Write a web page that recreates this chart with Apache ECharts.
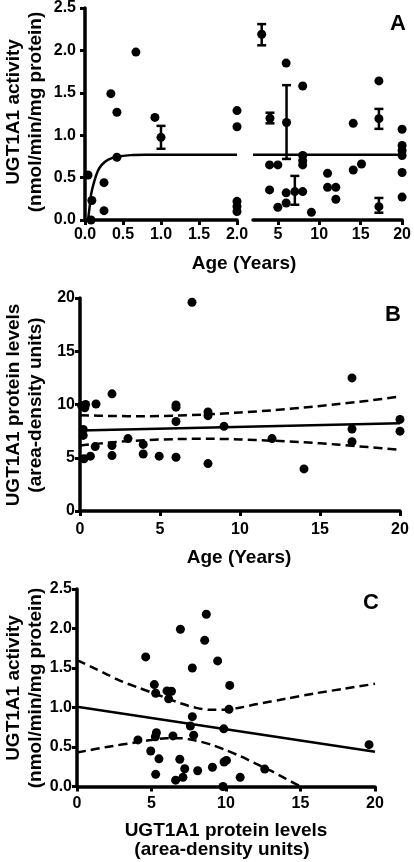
<!DOCTYPE html>
<html><head><meta charset="utf-8">
<script src="https://cdn.jsdelivr.net/npm/echarts@6/dist/echarts.min.js"></script>
<style>html,body{margin:0;padding:0;background:#fff}#c{width:414px;height:862px}</style>
</head><body><div id="c"></div>
<script>
// ---------- Panel A: activity vs age ----------
// left segment (0-2 years)
const ageA1 = [0.04, 0.09, 0.08, 0.25, 0.25, 0.34, 0.42, 0.42, 0.67, 0.92, 2.0, 2.0, 2.0, 2.0, 2.0];
const actA1 = [0.53, 0.23, 0.0, 0.44, 0.11, 1.49, 1.27, 0.74, 1.98, 1.21, 1.29, 1.10, 0.22, 0.16, 0.10];
const errAgeA1 = [1.0];
const errMeanA1 = [0.975];
const errLowA1 = [0.84];
const errHighA1 = [1.11];
const curveAgeA1 = [0.04, 0.06, 0.08, 0.12, 0.17, 0.22, 0.30, 0.42, 0.60, 0.80, 1.2, 2.0];
const curveActA1 = [0.0, 0.15, 0.30, 0.45, 0.58, 0.65, 0.71, 0.745, 0.765, 0.77, 0.77, 0.77];
// right segment (2-20 years)
const ageA2 = [6.0, 8.0, 14.1, 17.2, 20, 20, 20, 20, 20, 20, 4.0, 5.0, 8.0, 8.0, 8.0, 11.0, 11.0, 12.0, 12.0, 14.1, 15.1, 4.0, 6.0, 6.0, 5.0, 8.0, 9.05];
const actA2 = [1.85, 1.58, 1.14, 1.64, 1.07, 0.88, 0.82, 0.76, 0.56, 0.27, 0.65, 0.65, 0.76, 0.70, 0.65, 0.55, 0.385, 0.385, 0.245, 0.59, 0.66, 0.355, 0.32, 0.20, 0.15, 0.335, 0.09];
const errAgeA2 = [3.05, 4.05, 6.05, 7.05, 17.2, 17.2];
const errMeanA2 = [2.19, 1.20, 1.15, 0.335, 1.195, 0.157];
const errLowA2 = [2.06, 1.14, 0.72, 0.18, 1.075, 0.086];
const errHighA2 = [2.31, 1.265, 1.59, 0.52, 1.31, 0.26];
const curveAgeA2 = [2, 20];
const curveActA2 = [0.77, 0.77];
const ticksA1 = [0, 0.5, 1.0, 1.5, 2.0];
const ticksA2 = [5, 10, 15, 20];

// ---------- Panel B: protein vs age ----------
const ageB = [0.1, 0.35, 0.3, 1.0, 0.2, 0.2, 0.25, 0.65, 0.95, 2.0, 2.0, 2.0, 3.0, 3.95, 3.95, 4.95, 6.0, 6.0, 6.0, 6.0, 7.0, 8.0, 8.0, 8.0, 9.0, 12.0, 14.0, 17.0, 17.0, 17.0, 20.0, 20.0];
const protB = [9.9, 10.0, 9.7, 10.05, 7.65, 7.1, 4.9, 5.15, 6.05, 11.0, 6.15, 5.2, 6.8, 6.25, 5.35, 5.15, 9.95, 9.75, 8.4, 5.05, 19.6, 9.3, 8.95, 4.45, 7.95, 6.8, 3.95, 12.5, 7.7, 6.5, 8.6, 7.5];
const fitAgeB = [0, 20];
const fitProtB = [7.55, 8.25];
const bandAgeB = [0, 2, 4, 6, 8, 10, 12, 14, 16, 18, 20];
const bandUpB = [9.0, 8.92, 8.9, 8.95, 9.08, 9.25, 9.45, 9.72, 10.02, 10.35, 10.75];
const bandLoB = [6.15, 6.45, 6.65, 6.75, 6.78, 6.72, 6.6, 6.45, 6.25, 6.0, 5.75];

// ---------- Panel C: activity vs protein ----------
const protC = [4.61, 8.68, 6.94, 8.57, 9.44, 7.74, 5.19, 10.25, 5.28, 6.04, 6.34, 6.15, 10.2, 7.74, 7.61, 9.85, 7.83, 5.33, 5.26, 6.44, 4.09, 4.95, 5.5, 6.9, 7.23, 8.1, 9.09, 9.87, 10.03, 5.28, 7.11, 6.62, 9.8, 10.95, 12.6, 19.6];
const actC = [1.64, 2.18, 1.99, 1.85, 1.59, 1.50, 1.29, 1.28, 1.18, 1.21, 1.205, 1.11, 0.977, 0.884, 0.766, 0.73, 0.65, 0.68, 0.63, 0.64, 0.59, 0.45, 0.35, 0.345, 0.225, 0.20, 0.243, 0.31, 0.33, 0.154, 0.116, 0.08, 0.0, 0.116, 0.22, 0.53];
const fitProtC = [0, 20];
const fitActC = [1.01, 0.44];
const upProtC = [0, 1, 2, 3, 4, 5, 6, 7, 8, 9, 10, 11, 12, 14, 16, 18, 20];
const upActC = [1.60, 1.51, 1.42, 1.33, 1.26, 1.19, 1.12, 1.05, 0.995, 0.97, 0.975, 1.0, 1.04, 1.11, 1.18, 1.24, 1.30];
const loProtC = [0, 2, 4, 5, 6, 7, 8, 9, 10, 11, 12, 13, 14, 15];
const loActC = [0.43, 0.50, 0.56, 0.59, 0.61, 0.61, 0.58, 0.53, 0.46, 0.38, 0.29, 0.20, 0.10, 0.0];

const FONT = '"Liberation Sans", Arial, sans-serif';
const zip = (a, b) => a.map((v, i) => [v, b[i]]);
const err4 = (x, m, l, h) => x.map((v, i) => [v, m[i], l[i], h[i]]);

function axis(o) {
  return Object.assign({
    type: 'value',
    axisLine: { show: true, lineStyle: { color: '#000', width: 3.5 } },
    axisTick: { show: true, length: 5, lineStyle: { color: '#000', width: 3 } },
    axisLabel: { color: '#000', fontSize: 16, fontWeight: 'bold', fontFamily: FONT, margin: 6 },
    splitLine: { show: false }
  }, o);
}

function errRender(params, api) {
  const x = api.value(0);
  const lo = api.coord([x, api.value(2)]);
  const hi = api.coord([x, api.value(3)]);
  const w = 4.5;
  const st = { stroke: '#000', lineWidth: 2.5 };
  return { type: 'group', children: [
    { type: 'line', shape: { x1: lo[0], y1: lo[1], x2: hi[0], y2: hi[1] }, style: st },
    { type: 'line', shape: { x1: lo[0] - w, y1: lo[1], x2: lo[0] + w, y2: lo[1] }, style: st },
    { type: 'line', shape: { x1: hi[0] - w, y1: hi[1], x2: hi[0] + w, y2: hi[1] }, style: st }
  ]};
}

const dot = { type: 'scatter', symbol: 'circle', symbolSize: 9, itemStyle: { color: '#000', opacity: 1 }, clip: false, z: 5 };
const solid = { type: 'line', showSymbol: false, symbol: 'none', lineStyle: { color: '#000', width: 2.5 }, z: 3 };
const dashed = { type: 'line', showSymbol: false, symbol: 'none', smooth: 0.3, lineStyle: { color: '#000', width: 2.5, type: [9, 5] }, z: 3 };

function txt(x, y, s, size, rot) {
  return { type: 'text', x: x, y: y, rotation: rot || 0, z: 10,
    style: { text: s, fill: '#000', font: 'bold ' + size + 'px ' + FONT, align: 'center', verticalAlign: 'middle' } };
}

const one = v => v.toFixed(1);

const option = {
  animation: false,
  backgroundColor: '#fff',
  grid: [
    { left: 85, top: 8, width: 152, height: 212 },
    { left: 253, top: 8, width: 150, height: 212 },
    { left: 80, top: 298, width: 320, height: 213 },
    { left: 77, top: 589, width: 298, height: 197.5 }
  ],
  xAxis: [
    axis({ gridIndex: 0, min: 0, max: 2, interval: 0.5, axisLabel: { color: '#000', fontSize: 16, fontWeight: 'bold', fontFamily: FONT, margin: 7, formatter: one, customValues: ticksA1 }, axisTick: { length: 5, lineStyle: { color: '#000', width: 3 }, customValues: ticksA1 } }),
    axis({ gridIndex: 1, min: 2, max: 20, axisLabel: { color: '#000', fontSize: 16, fontWeight: 'bold', fontFamily: FONT, margin: 7, customValues: ticksA2 }, axisTick: { length: 5, lineStyle: { color: '#000', width: 3 }, customValues: ticksA2 } }),
    axis({ gridIndex: 2, min: 0, max: 20, interval: 5, axisLabel: { color: '#000', fontSize: 16, fontWeight: 'bold', fontFamily: FONT, margin: 11 } }),
    axis({ gridIndex: 3, min: 0, max: 20, interval: 5, axisLabel: { color: '#000', fontSize: 16, fontWeight: 'bold', fontFamily: FONT, margin: 9 } })
  ],
  yAxis: [
    axis({ gridIndex: 0, min: 0, max: 2.5, interval: 0.5, axisLabel: { color: '#000', fontSize: 16, fontWeight: 'bold', fontFamily: FONT, margin: 9, formatter: one } }),
    { type: 'value', gridIndex: 1, min: 0, max: 2.5, show: false },
    axis({ gridIndex: 2, min: 0, max: 20, interval: 5, axisLabel: { color: '#000', fontSize: 16, fontWeight: 'bold', fontFamily: FONT, margin: 5 } }),
    axis({ gridIndex: 3, min: 0, max: 2.5, interval: 0.5, axisLabel: { color: '#000', fontSize: 16, fontWeight: 'bold', fontFamily: FONT, margin: 5, formatter: one } })
  ],
  series: [
    Object.assign({}, solid, { xAxisIndex: 0, yAxisIndex: 0, smooth: 0.3, data: zip(curveAgeA1, curveActA1) }),
    Object.assign({}, dot, { xAxisIndex: 0, yAxisIndex: 0, data: zip(ageA1, actA1).concat(zip(errAgeA1, errMeanA1)) }),
    { type: 'custom', xAxisIndex: 0, yAxisIndex: 0, renderItem: errRender, encode: { x: 0, y: [1, 2, 3] }, data: err4(errAgeA1, errMeanA1, errLowA1, errHighA1), z: 4 },
    Object.assign({}, solid, { xAxisIndex: 1, yAxisIndex: 1, data: zip(curveAgeA2, curveActA2) }),
    Object.assign({}, dot, { xAxisIndex: 1, yAxisIndex: 1, data: zip(ageA2, actA2).concat(zip(errAgeA2, errMeanA2)) }),
    { type: 'custom', xAxisIndex: 1, yAxisIndex: 1, renderItem: errRender, encode: { x: 0, y: [1, 2, 3] }, data: err4(errAgeA2, errMeanA2, errLowA2, errHighA2), z: 4 },

    Object.assign({}, dot, { xAxisIndex: 2, yAxisIndex: 2, data: zip(ageB, protB) }),
    Object.assign({}, solid, { xAxisIndex: 2, yAxisIndex: 2, data: zip(fitAgeB, fitProtB) }),
    Object.assign({}, dashed, { xAxisIndex: 2, yAxisIndex: 2, data: zip(bandAgeB, bandUpB) }),
    Object.assign({}, dashed, { xAxisIndex: 2, yAxisIndex: 2, data: zip(bandAgeB, bandLoB) }),

    Object.assign({}, dot, { xAxisIndex: 3, yAxisIndex: 3, data: zip(protC, actC) }),
    Object.assign({}, solid, { xAxisIndex: 3, yAxisIndex: 3, data: zip(fitProtC, fitActC) }),
    Object.assign({}, dashed, { xAxisIndex: 3, yAxisIndex: 3, data: zip(upProtC, upActC) }),
    Object.assign({}, dashed, { xAxisIndex: 3, yAxisIndex: 3, data: zip(loProtC, loActC) })
  ],
  graphic: [
    txt(14, 112, 'UGT1A1 activity', 19, Math.PI / 2),
    txt(36, 112, '(nmol/min/mg protein)', 19, Math.PI / 2),
    txt(244, 264, 'Age (Years)', 19),
    txt(398, 24, 'A', 22),

    txt(14, 405, 'UGT1A1 protein levels', 19, Math.PI / 2),
    txt(36, 405, '(area-density units)', 19, Math.PI / 2),
    txt(239, 558, 'Age (Years)', 19),
    txt(393, 315, 'B', 22),

    txt(14, 688, 'UGT1A1 activity', 19, Math.PI / 2),
    txt(36, 688, '(nmol/min/mg protein)', 19, Math.PI / 2),
    txt(226, 831, 'UGT1A1 protein levels', 19),
    txt(222, 850, '(area-density units)', 19),
    txt(371, 603, 'C', 22)
  ]
};

const chart = echarts.init(document.getElementById('c'), null, { renderer: 'canvas' });
chart.setOption(option);
</script>
</body></html>
